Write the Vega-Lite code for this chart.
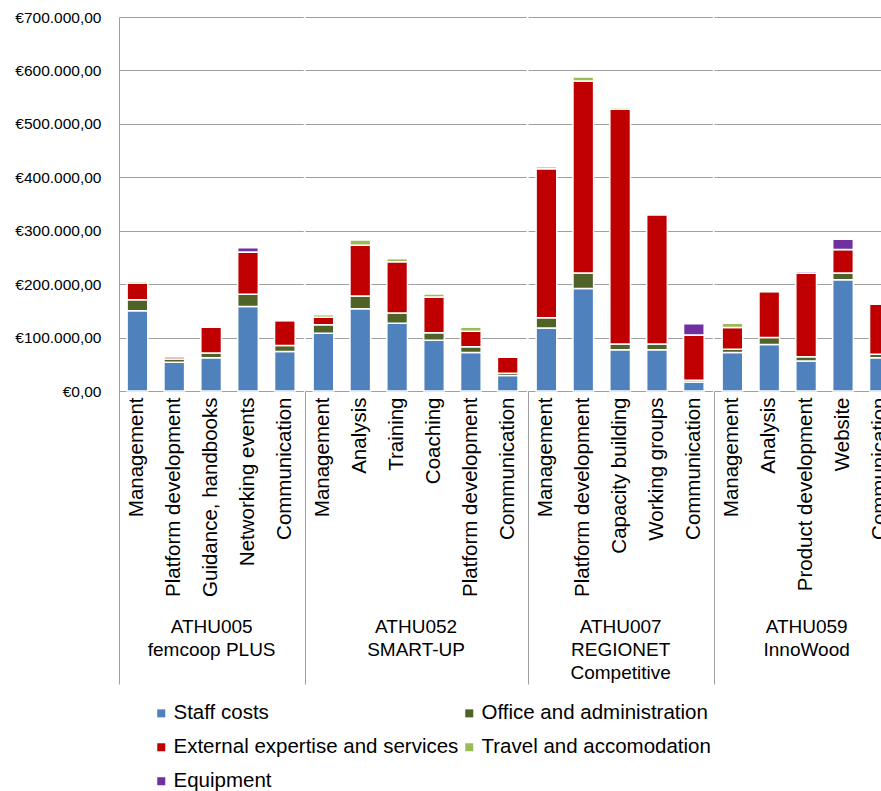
{
  "$schema": "https://vega.github.io/schema/vega-lite/v6.json",
  "background": "white",
  "padding": {"left": 14, "top": 10, "right": 0, "bottom": 0},
  "spacing": 0,
  "config": {
    "font": "Liberation Sans",
    "view": {"stroke": null},
    "axis": {
      "labelFont": "Liberation Sans",
      "titleFont": "Liberation Sans",
      "labelColor": "#000000",
      "titleColor": "#000000",
      "domainColor": "#a0a0a0",
      "gridColor": "#a0a0a0",
      "titleFontWeight": "normal"
    },
    "legend": {
      "orient": "none",
      "legendX": 32,
      "legendY": 686,
      "columns": 2,
      "title": null,
      "symbolType": "square",
      "symbolSize": 64,
      "symbolStrokeWidth": 0,
      "labelFont": "Liberation Sans",
      "labelFontSize": 20.5,
      "labelColor": "#000000",
      "labelLimit": 400,
      "rowPadding": 13,
      "columnPadding": -10,
      "labelOffset": 2
    }
  },
  "datasets": {
    "budget": [
      {"group": "ATHU005", "activity": "Management", "Staff costs": 150000, "Office and administration": 21000, "External expertise and services": 31000, "Travel and accomodation": 4000, "Equipment": 0},
      {"group": "ATHU005", "activity": "Platform development", "Staff costs": 54000, "Office and administration": 6000, "External expertise and services": 4000, "Travel and accomodation": 3000, "Equipment": 0},
      {"group": "ATHU005", "activity": "Guidance, handbooks", "Staff costs": 62000, "Office and administration": 9000, "External expertise and services": 49000, "Travel and accomodation": 0, "Equipment": 0},
      {"group": "ATHU005", "activity": "Networking events", "Staff costs": 158000, "Office and administration": 23000, "External expertise and services": 79000, "Travel and accomodation": 0, "Equipment": 8000},
      {"group": "ATHU005", "activity": "Communication", "Staff costs": 74000, "Office and administration": 11000, "External expertise and services": 47000, "Travel and accomodation": 0, "Equipment": 0},
      {"group": "ATHU052", "activity": "Management", "Staff costs": 108000, "Office and administration": 16000, "External expertise and services": 14000, "Travel and accomodation": 5000, "Equipment": 0},
      {"group": "ATHU052", "activity": "Analysis", "Staff costs": 154000, "Office and administration": 24000, "External expertise and services": 95000, "Travel and accomodation": 10000, "Equipment": 0},
      {"group": "ATHU052", "activity": "Training", "Staff costs": 127000, "Office and administration": 19000, "External expertise and services": 96000, "Travel and accomodation": 6000, "Equipment": 0},
      {"group": "ATHU052", "activity": "Coaching", "Staff costs": 95000, "Office and administration": 14000, "External expertise and services": 67000, "Travel and accomodation": 6000, "Equipment": 0},
      {"group": "ATHU052", "activity": "Platform development", "Staff costs": 72000, "Office and administration": 11000, "External expertise and services": 29000, "Travel and accomodation": 8000, "Equipment": 0},
      {"group": "ATHU052", "activity": "Communication", "Staff costs": 29000, "Office and administration": 4000, "External expertise and services": 30000, "Travel and accomodation": 0, "Equipment": 0},
      {"group": "ATHU007", "activity": "Management", "Staff costs": 118000, "Office and administration": 19000, "External expertise and services": 279000, "Travel and accomodation": 4000, "Equipment": 0},
      {"group": "ATHU007", "activity": "Platform development", "Staff costs": 192000, "Office and administration": 29000, "External expertise and services": 359000, "Travel and accomodation": 8000, "Equipment": 0},
      {"group": "ATHU007", "activity": "Capacity building", "Staff costs": 77000, "Office and administration": 11000, "External expertise and services": 440000, "Travel and accomodation": 3000, "Equipment": 0},
      {"group": "ATHU007", "activity": "Working groups", "Staff costs": 77000, "Office and administration": 11000, "External expertise and services": 242000, "Travel and accomodation": 1500, "Equipment": 0},
      {"group": "ATHU007", "activity": "Communication", "Staff costs": 17000, "Office and administration": 3000, "External expertise and services": 85000, "Travel and accomodation": 0, "Equipment": 21000},
      {"group": "ATHU059", "activity": "Management", "Staff costs": 72000, "Office and administration": 6000, "External expertise and services": 41000, "Travel and accomodation": 8000, "Equipment": 0},
      {"group": "ATHU059", "activity": "Analysis", "Staff costs": 87000, "Office and administration": 13000, "External expertise and services": 86000, "Travel and accomodation": 0, "Equipment": 0},
      {"group": "ATHU059", "activity": "Product development", "Staff costs": 56000, "Office and administration": 8000, "External expertise and services": 157000, "Travel and accomodation": 0, "Equipment": 3000},
      {"group": "ATHU059", "activity": "Website", "Staff costs": 208000, "Office and administration": 13000, "External expertise and services": 44000, "Travel and accomodation": 0, "Equipment": 19000},
      {"group": "ATHU059", "activity": "Communication", "Staff costs": 62000, "Office and administration": 7000, "External expertise and services": 94000, "Travel and accomodation": 0, "Equipment": 0}
    ],
    "costTypes": [
      {"cost": "Staff costs", "rank": 1},
      {"cost": "Office and administration", "rank": 2},
      {"cost": "External expertise and services", "rank": 3},
      {"cost": "Travel and accomodation", "rank": 4},
      {"cost": "Equipment", "rank": 5}
    ]
  },
  "data": {"name": "budget"},
  "transform": [
    {"fold": ["Staff costs", "Office and administration", "External expertise and services", "Travel and accomodation", "Equipment"], "as": ["cost", "amount"]},
    {"lookup": "cost", "from": {"data": {"name": "costTypes"}, "key": "cost", "fields": ["rank"]}}
  ],
  "resolve": {"scale": {"y": "shared", "color": "shared"}},
  "hconcat": [
    {
      "width": {"step": 36.86},
      "height": 374,
      "transform": [{"filter": "datum.group === 'ATHU005'"}],
      "mark": {"type": "bar", "width": {"band": 0.56}, "stroke": "white", "strokeWidth": 1.5},
      "encoding": {
        "x": {"field": "activity", "type": "nominal", "sort": null,
          "scale": {"paddingInner": 0, "paddingOuter": 0},
          "axis": {"title": ["ATHU005", "femcoop PLUS"], "titleFontSize": 19, "titleLineHeight": 23, "titleY": 226, "titleBaseline": "top",
            "labelAngle": -90, "labelFontSize": 20.5, "labelLimit": 300, "labelPadding": -287,
            "bandPosition": 0, "tickSize": 293, "tickWidth": 1,
            "tickColor": {"condition": {"test": "datum.value === 'Management'", "value": "#a0a0a0"}, "value": "transparent"}}},
        "y": {"field": "amount", "type": "quantitative", "stack": "zero",
          "scale": {"domain": [0, 700000], "nice": false},
          "axis": {"title": null, "values": [0, 100000, 200000, 300000, 400000, 500000, 600000, 700000],
            "labelExpr": "'€' + (datum.value === 0 ? '0,00' : format(datum.value / 1000, 'd') + '.000,00')",
            "labelFontSize": 15.5, "labelPadding": 18, "ticks": false, "grid": true}},
        "color": {"field": "cost", "type": "nominal",
          "scale": {"domain": ["Staff costs", "External expertise and services", "Equipment", "Office and administration", "Travel and accomodation"],
            "range": ["#4f81bd", "#c00000", "#7030a0", "#4f6228", "#9bbb59"]}},
        "order": {"field": "rank", "type": "quantitative"}
      }
    },
    {
      "width": {"step": 36.86},
      "height": 374,
      "transform": [{"filter": "datum.group === 'ATHU052'"}],
      "mark": {"type": "bar", "width": {"band": 0.56}, "stroke": "white", "strokeWidth": 1.5},
      "encoding": {
        "x": {"field": "activity", "type": "nominal", "sort": null,
          "scale": {"paddingInner": 0, "paddingOuter": 0},
          "axis": {"title": ["ATHU052", "SMART-UP"], "titleFontSize": 19, "titleLineHeight": 23, "titleY": 226, "titleBaseline": "top",
            "labelAngle": -90, "labelFontSize": 20.5, "labelLimit": 300, "labelPadding": -287,
            "bandPosition": 0, "tickSize": 293, "tickWidth": 1,
            "tickColor": {"condition": {"test": "datum.value === 'Management'", "value": "#a0a0a0"}, "value": "transparent"}}},
        "y": {"field": "amount", "type": "quantitative", "stack": "zero",
          "scale": {"domain": [0, 700000], "nice": false},
          "axis": {"title": null, "values": [0, 100000, 200000, 300000, 400000, 500000, 600000, 700000], "labels": false, "ticks": false, "domain": false, "grid": true}},
        "color": {"field": "cost", "type": "nominal",
          "scale": {"domain": ["Staff costs", "External expertise and services", "Equipment", "Office and administration", "Travel and accomodation"],
            "range": ["#4f81bd", "#c00000", "#7030a0", "#4f6228", "#9bbb59"]}},
        "order": {"field": "rank", "type": "quantitative"}
      }
    },
    {
      "width": {"step": 36.86},
      "height": 374,
      "transform": [{"filter": "datum.group === 'ATHU007'"}],
      "mark": {"type": "bar", "width": {"band": 0.56}, "stroke": "white", "strokeWidth": 1.5},
      "encoding": {
        "x": {"field": "activity", "type": "nominal", "sort": null,
          "scale": {"paddingInner": 0, "paddingOuter": 0},
          "axis": {"title": ["ATHU007", "REGIONET", "Competitive"], "titleFontSize": 19, "titleLineHeight": 23, "titleY": 226, "titleBaseline": "top",
            "labelAngle": -90, "labelFontSize": 20.5, "labelLimit": 300, "labelPadding": -287,
            "bandPosition": 0, "tickSize": 293, "tickWidth": 1,
            "tickColor": {"condition": {"test": "datum.value === 'Management'", "value": "#a0a0a0"}, "value": "transparent"}}},
        "y": {"field": "amount", "type": "quantitative", "stack": "zero",
          "scale": {"domain": [0, 700000], "nice": false},
          "axis": {"title": null, "values": [0, 100000, 200000, 300000, 400000, 500000, 600000, 700000], "labels": false, "ticks": false, "domain": false, "grid": true}},
        "color": {"field": "cost", "type": "nominal",
          "scale": {"domain": ["Staff costs", "External expertise and services", "Equipment", "Office and administration", "Travel and accomodation"],
            "range": ["#4f81bd", "#c00000", "#7030a0", "#4f6228", "#9bbb59"]}},
        "order": {"field": "rank", "type": "quantitative"}
      }
    },
    {
      "width": {"step": 36.86},
      "height": 374,
      "transform": [{"filter": "datum.group === 'ATHU059'"}],
      "mark": {"type": "bar", "width": {"band": 0.56}, "stroke": "white", "strokeWidth": 1.5},
      "encoding": {
        "x": {"field": "activity", "type": "nominal", "sort": null,
          "scale": {"paddingInner": 0, "paddingOuter": 0},
          "axis": {"title": ["ATHU059", "InnoWood"], "titleFontSize": 19, "titleLineHeight": 23, "titleY": 226, "titleBaseline": "top",
            "labelAngle": -90, "labelFontSize": 20.5, "labelLimit": 300, "labelPadding": -287,
            "bandPosition": 0, "tickSize": 293, "tickWidth": 1,
            "tickColor": {"condition": {"test": "datum.value === 'Management'", "value": "#a0a0a0"}, "value": "transparent"}}},
        "y": {"field": "amount", "type": "quantitative", "stack": "zero",
          "scale": {"domain": [0, 700000], "nice": false},
          "axis": {"title": null, "values": [0, 100000, 200000, 300000, 400000, 500000, 600000, 700000], "labels": false, "ticks": false, "domain": false, "grid": true}},
        "color": {"field": "cost", "type": "nominal",
          "scale": {"domain": ["Staff costs", "External expertise and services", "Equipment", "Office and administration", "Travel and accomodation"],
            "range": ["#4f81bd", "#c00000", "#7030a0", "#4f6228", "#9bbb59"]}},
        "order": {"field": "rank", "type": "quantitative"}
      }
    }
  ]
}
